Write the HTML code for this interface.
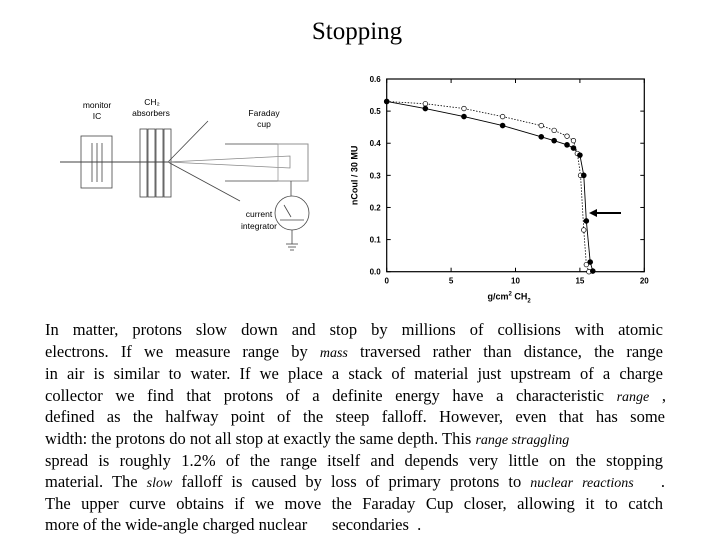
<!DOCTYPE html>
<html><head><meta charset="utf-8">
<style>
body{margin:0;background:#fff;}
#page{position:relative;width:720px;height:540px;overflow:hidden;background:#fff;font-family:"Liberation Serif",serif;}
.title{position:absolute;left:0;width:714px;top:18px;text-align:center;font-size:25px;}
.ln{position:absolute;left:45px;font-size:16.5px;line-height:20px;white-space:nowrap;text-align:justify;text-align-last:justify;}
.ln i{font-size:14px;}
svg text{font-family:"Liberation Sans",sans-serif;}
</style></head>
<body>
<div id="page">
<div class="title">Stopping</div>

<svg id="diagram" width="720" height="540" style="position:absolute;left:0;top:0">
 <g font-size="8.5" fill="#000" text-anchor="middle">
  <text x="97" y="108">monitor</text><text x="97" y="119">IC</text>
  <text x="152" y="105">CH₂</text><text x="151" y="116">absorbers</text>
  <text x="264" y="116">Faraday</text><text x="264" y="127">cup</text>
  <text x="259" y="217">current</text><text x="259" y="229">integrator</text>
 </g>
 <g stroke="#444" stroke-width="0.8" fill="none">
  <line x1="60" y1="162" x2="168" y2="162" stroke="#000"/>
  <rect x="81" y="136" width="31" height="52"/>
  <line x1="92" y1="143" x2="92" y2="182"/><line x1="97" y1="143" x2="97" y2="182"/><line x1="102" y1="143" x2="102" y2="182"/>
  <rect x="140" y="129" width="7" height="68"/><rect x="148" y="129" width="7" height="68"/><rect x="156" y="129" width="7" height="68"/><rect x="164" y="129" width="7" height="68"/>
  <line x1="168" y1="162" x2="208" y2="121"/><line x1="168" y1="162" x2="240" y2="201"/>
  <polygon points="168,162 290,156 290,168" stroke="#888"/>
  <polyline points="225,144 308,144 308,181 225,181"/>
  <rect x="278" y="144" width="30" height="37" stroke="#999"/>
  <line x1="291" y1="181" x2="291" y2="196"/>
  <circle cx="292" cy="213" r="17"/>
  <line x1="280" y1="220" x2="304" y2="220"/><line x1="284" y1="205" x2="291" y2="217"/>
  <line x1="292" y1="230" x2="292" y2="244"/>
  <line x1="286" y1="244" x2="298" y2="244"/><line x1="288" y1="247" x2="296" y2="247"/><line x1="290" y1="250" x2="294" y2="250"/>
 </g>
</svg>

<svg id="chart" width="720" height="540" style="position:absolute;left:0;top:0"></svg>

<div class="ln" style="top:320px;width:618px">In matter, protons slow down and stop by millions of collisions with atomic</div>
<div class="ln" style="top:342px;width:618px">electrons. If we measure range by <i>mass</i> traversed rather than distance, the range</div>
<div class="ln" style="top:364px;width:618px">in air is similar to water. If we place a stack of material just upstream of a charge</div>
<div class="ln" style="top:386px;width:621px">collector we find that protons of a definite energy have a characteristic <i>range</i> ,</div>
<div class="ln" style="top:407px;width:620px">defined as the halfway point of the steep falloff. However, even that has some</div>
<div class="ln" style="top:429px;width:492px">width: the protons do not all stop at exactly the same depth. This <i>range straggling</i></div>
<div class="ln" style="top:451px;width:618px">spread is roughly 1.2% of the range itself and depends very little on the stopping</div>
<div class="ln" style="top:472px;width:620px">material. The <i>slow</i> falloff is caused by loss of primary protons to <i>nuclear</i> <i>reactions</i> &nbsp; .</div>
<div class="ln" style="top:494px;width:618px">The upper curve obtains if we move the Faraday Cup closer, allowing it to catch</div>
<div class="ln" style="top:515px;text-align:left;text-align-last:left">more of the wide-angle charged nuclear &nbsp;&nbsp;&nbsp;&nbsp; secondaries &nbsp;.</div>
</div>

<script>
const xTicks=[0,5,10,15,20];
const yTicks=[0.0,0.1,0.2,0.3,0.4,0.5,0.6];
const filledX=[0,3,6,9,12,13,14,14.5,15,15.3,15.5,15.8,16];
const filledY=[0.53,0.508,0.483,0.455,0.42,0.408,0.395,0.385,0.363,0.3,0.158,0.03,0.002];
const openX=[0,3,6,9,12,13,14,14.5,14.8,15.05,15.3,15.5,15.7];
const openY=[0.53,0.523,0.508,0.483,0.455,0.44,0.422,0.408,0.368,0.3,0.13,0.022,0.0];
const X0=386.7,X1=644.3,Y0=271.7,Y1=79;
const sx=v=>X0+(v-0)/(20-0)*(X1-X0);
const sy=v=>Y0-(v-0)/(0.6-0)*(Y0-Y1);
const svg=document.getElementById('chart');
const NS='http://www.w3.org/2000/svg';
function mk(t,a){const e=document.createElementNS(NS,t);for(const k in a)e.setAttribute(k,a[k]);svg.appendChild(e);return e;}
const frame=mk('rect',{x:X0,y:Y1,width:X1-X0,height:Y0-Y1,fill:'none',stroke:'#000','stroke-width':1.2});


xTicks.forEach(v=>{
 mk('line',{x1:sx(v),x2:sx(v),y1:Y0,y2:Y0-4,stroke:'#000'});
 mk('line',{x1:sx(v),x2:sx(v),y1:Y1,y2:Y1+4,stroke:'#000'});
 const t=mk('text',{x:sx(v),y:Y0+12,'font-size':8,'font-weight':'bold','text-anchor':'middle'});
 t.textContent=v;
 
 
});
yTicks.forEach(v=>{
 mk('line',{x1:X0,x2:X0+4,y1:sy(v),y2:sy(v),stroke:'#000'});
 mk('line',{x1:X1,x2:X1-4,y1:sy(v),y2:sy(v),stroke:'#000'});
 const t=mk('text',{x:X0-6,y:sy(v)+3,'font-size':8,'font-weight':'bold','text-anchor':'end'});
 t.textContent=v.toFixed(1);
 
 
});
const xt=mk('text',{x:sx(9.5),y:Y0+28,'font-size':9,'font-weight':'bold','text-anchor':'middle'});
xt.innerHTML='g/cm<tspan dy="-4" font-size="6">2</tspan><tspan dy="4">  CH</tspan><tspan dy="3" font-size="6">2</tspan>';


const yt=mk('text',{x:0,y:0,'font-size':9,'font-weight':'bold','text-anchor':'middle',transform:`translate(${X0-29},${(Y0+Y1)/2}) rotate(-90)`});
yt.textContent='nCoul / 30 MU';


const po=mk('polyline',{points:openX.map((x,i)=>sx(x)+','+sy(openY[i])).join(' '),fill:'none',stroke:'#000','stroke-width':0.8,'stroke-dasharray':'1.5,1.5'});


const pf=mk('polyline',{points:filledX.map((x,i)=>sx(x)+','+sy(filledY[i])).join(' '),fill:'none',stroke:'#000','stroke-width':0.9});


openX.forEach((x,i)=>{
 const c=mk('circle',{cx:sx(x),cy:sy(openY[i]),r:2.3,fill:'#fff',stroke:'#000','stroke-width':0.7});
 
 
});
filledX.forEach((x,i)=>{
 const c=mk('circle',{cx:sx(x),cy:sy(filledY[i]),r:2.8,fill:'#000'});
 
 
});
const ar=mk('line',{x1:621,y1:213,x2:595,y2:213,stroke:'#000','stroke-width':2});


mk('polygon',{points:'589,213 597,209 597,217',fill:'#000'});
</script>
</body></html>
